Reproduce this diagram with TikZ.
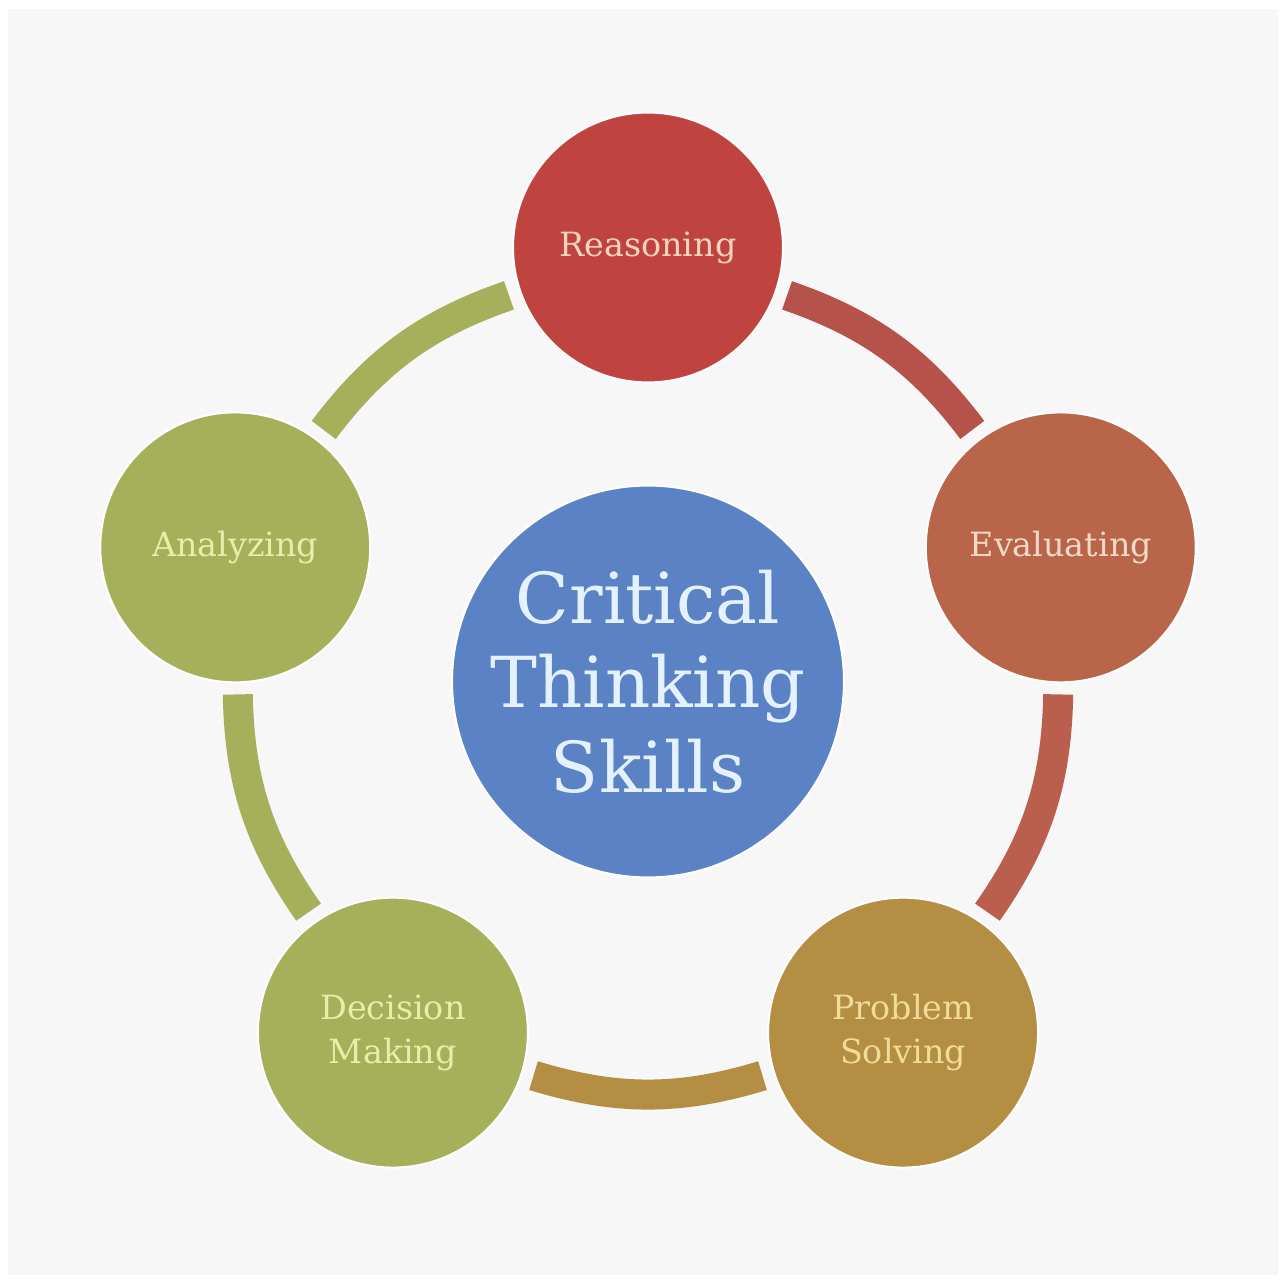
\documentclass[tikz,border=0pt]{standalone}
\usepackage{fontspec}
\setmainfont{DejaVu Serif}

\definecolor{fon}{HTML}{F7F7F7}
\definecolor{krasnyj}{HTML}{BF4440}
\definecolor{ryzhij}{HTML}{B9654A}
\definecolor{zoloto}{HTML}{B48E42}
\definecolor{oliva}{HTML}{A6B05A}
\definecolor{sinij}{HTML}{5A82C4}
\definecolor{dugaRE}{HTML}{B5524A}
\definecolor{dugaEP}{HTML}{BA5E4E}
\definecolor{tReason}{HTML}{F6D2C0}
\definecolor{tEval}{HTML}{F2DAC6}
\definecolor{tProb}{HTML}{EEDC98}
\definecolor{tOliva}{HTML}{E6EEAA}
\definecolor{tSinij}{HTML}{E4F2FF}

\begin{document}
\begin{tikzpicture}[
  krug/.style={circle, minimum size=5.4cm, inner sep=0pt, draw=white, line width=1.2pt, align=center, font=\fontsize{19}{25}\selectfont},
  duga/.style={line width=0.6cm, shorten <=0.22cm, shorten >=0.22cm}
]
\useasboundingbox (0,0) rectangle (25.72,25.66);
% Фон
\fill[white] (0,0) rectangle (25.72,25.66);
\fill[fon] (0.16,0.16) rectangle (25.56,25.48);

% Центр кольца
\coordinate (O) at (12.96,12.03);

% Кружки навыков
\node[krug, fill=krasnyj, text=tReason] (R) at ([shift={(90:8.68)}]O) {Reasoning};
\node[krug, fill=ryzhij, text=tEval] (E) at ([shift={(18:8.68)}]O) {Evaluating};
\node[krug, fill=zoloto, text=tProb] (P) at ([shift={(-54:8.68)}]O) {Problem\\Solving};
\node[krug, fill=oliva, text=tOliva] (D) at ([shift={(-126:8.68)}]O) {Decision\\Making};
\node[krug, fill=oliva, text=tOliva] (A) at ([shift={(162:8.68)}]O) {Analyzing};

% Центральный круг
\node[circle, minimum size=7.84cm, inner sep=0pt, fill=sinij, draw=white, line width=1.2pt,
      text=tSinij, align=center, font=\fontsize{40}{48}\selectfont] (T) at (O) {Critical\\Thinking\\Skills};

% Дуги между кружками
\draw[duga, dugaRE] (R) to[bend left=17] (E);
\draw[duga, dugaEP] (E) to[bend left=17] (P);
\draw[duga, zoloto] (P) to[bend left=17] (D);
\draw[duga, oliva] (D) to[bend left=17] (A);
\draw[duga, oliva] (A) to[bend left=17] (R);
\end{tikzpicture}
\end{document}
